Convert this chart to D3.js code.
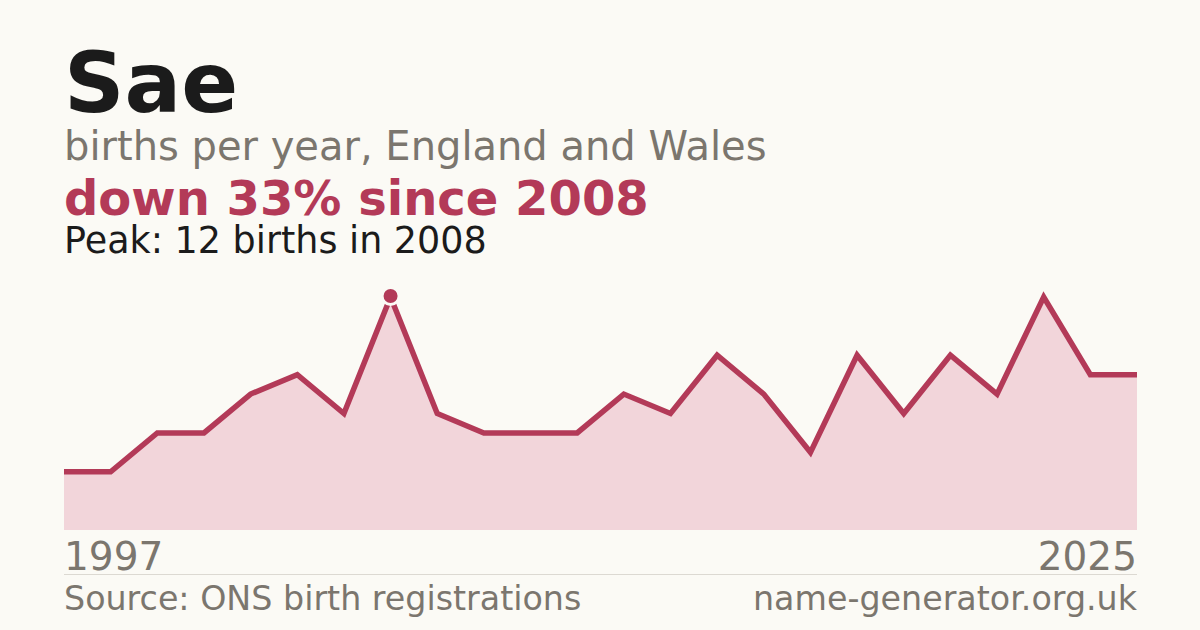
<!DOCTYPE html>
<html>
<head>
<meta charset="utf-8">
<script src="https://cdn.jsdelivr.net/npm/d3@7"></script>
<style>
  body { margin: 0; background: #fbfaf5; }
  svg { display: block; font-family: "DejaVu Sans", sans-serif; }
</style>
</head>
<body>
<div id="chart"></div>
<script>
// years with registrations (years under the threshold are left out)
const years = [1997, 1999, 2001, 2003, 2004, 2005, 2007, 2008, 2009, 2010,
  2011, 2013, 2014, 2015, 2016, 2017, 2018, 2019, 2020, 2021, 2022, 2023, 2024, 2025];
const births = [3, 3, 5, 5, 7, 8, 6, 12, 6, 5,
  5, 5, 7, 6, 9, 7, 4, 9, 6, 9, 7, 12, 8, 8];
const axisLabels = ["1997", "2025"];

const peakYear = 2008;

// canvas
let width = 1200, height = 630;
let margin = {left: 64, right: 63, top: 297, bottom: 100};

let svg = d3.select("#chart")
  .append("svg")
  .attr("width", width)
  .attr("height", height);

svg.append("rect")
  .attr("width", width)
  .attr("height", height)
  .attr("fill", "#fbfaf5");

// titles
svg.append("text")
  .attr("x", 64).attr("y", 112)
  .attr("font-size", 84).attr("font-weight", "bold")
  .attr("fill", "#1b1b1b")
  .text("Sae");

svg.append("text")
  .attr("x", 64).attr("y", 160)
  .attr("font-size", 40)
  .attr("fill", "#7b766e")
  .text("births per year, England and Wales");

svg.append("text")
  .attr("x", 64).attr("y", 215)
  .attr("font-size", 48).attr("font-weight", "bold")
  .attr("fill", "#b33a58")
  .text("down 33% since 2008");

svg.append("text")
  .attr("x", 64).attr("y", 253)
  .attr("font-size", 36.5)
  .attr("fill", "#1b1b1b")
  .text("Peak: 12 births in 2008");

// scales
let x_scale = d3.scalePoint()
  .domain(years)
  .range([margin.left, width - margin.right]);

let y_scale = d3.scaleLinear()
  .domain([0, d3.max(births)])
  .range([530, margin.top]);

let data = years.map((y, i) => ({year: y, value: births[i]}));

// area
const area = d3.area()
  .x(d => x_scale(d.year))
  .y0(y_scale(0))
  .y1(d => y_scale(d.value));

svg.append("path")
  .datum(data)
  .attr("fill", "#f2d5da")
  .attr("d", area);

// line
const line = d3.line()
  .x(d => x_scale(d.year))
  .y(d => y_scale(d.value));

svg.append("path")
  .datum(data)
  .attr("fill", "none")
  .attr("stroke", "#b33a58")
  .attr("stroke-width", 5.5)
  .attr("stroke-linejoin", "miter")
  .attr("d", line);

// peak marker
let peak = data.find(d => d.year === peakYear);
svg.append("circle")
  .attr("cx", x_scale(peak.year))
  .attr("cy", y_scale(peak.value) - 1)
  .attr("r", 8.5)
  .attr("fill", "#b33a58")
  .attr("stroke", "#fbfaf5")
  .attr("stroke-width", 3);

// axis end labels
svg.append("text")
  .attr("x", x_scale.range()[0]).attr("y", 570)
  .attr("font-size", 39)
  .attr("fill", "#7b766e")
  .text(axisLabels[0]);

svg.append("text")
  .attr("x", x_scale.range()[1]).attr("y", 570)
  .attr("font-size", 39)
  .attr("text-anchor", "end")
  .attr("fill", "#7b766e")
  .text(axisLabels[1]);

// separator
svg.append("line")
  .attr("x1", x_scale.range()[0]).attr("x2", x_scale.range()[1])
  .attr("y1", 574.5).attr("y2", 574.5)
  .attr("stroke", "#dcd9d2")
  .attr("stroke-width", 1);

// footer
svg.append("text")
  .attr("x", 64).attr("y", 610)
  .attr("font-size", 33.3)
  .attr("fill", "#7b766e")
  .text("Source: ONS birth registrations");

svg.append("text")
  .attr("x", x_scale.range()[1]).attr("y", 610)
  .attr("font-size", 33.3)
  .attr("text-anchor", "end")
  .attr("fill", "#7b766e")
  .text("name-generator.org.uk");
</script>
</body>
</html>
